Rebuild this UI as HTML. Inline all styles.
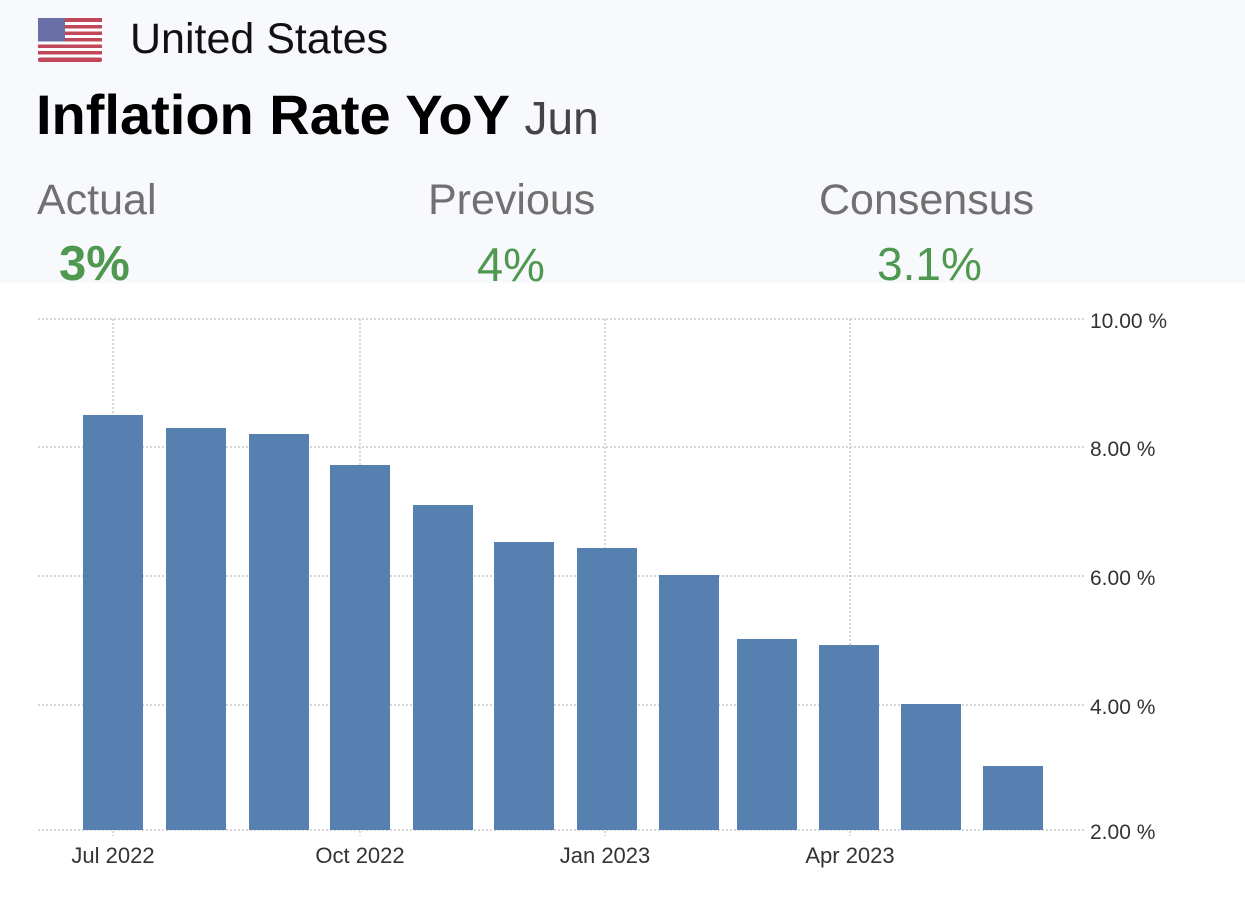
<!DOCTYPE html>
<html><head><meta charset="utf-8"><style>
body{margin:0;width:1245px;height:900px;background:#fff;font-family:"Liberation Sans",sans-serif;overflow:hidden;position:relative}
.top{position:absolute;left:0;top:0;width:1245px;height:283px;background:#f8f9fc}
.t{position:absolute;white-space:nowrap}
</style></head><body>
<div class="top"></div>
<svg class="t" style="left:38px;top:18px" width="64" height="44" viewBox="0 0 64 44">
<rect x="0" y="0" width="64" height="44" rx="5" fill="#fff"/>
<g fill="#c0485a"><rect y="0" width="64" height="4"/><rect y="7" width="64" height="3.5"/><rect y="13.5" width="64" height="3.5"/><rect y="20" width="64" height="3.5"/><rect y="26.5" width="64" height="3.5"/><rect y="33" width="64" height="3.5"/><rect y="39.5" width="64" height="4.5" rx="2"/></g>
<rect x="0" y="0" width="27" height="23.5" fill="#6a6fa8"/>
</svg>
<div class="t" style="left:130px;top:15px;font-size:43px;color:#111">United States</div>
<div class="t" style="left:36px;top:82px;font-size:56px;font-weight:bold;color:#000">Inflation Rate YoY <span style="font-weight:normal;font-size:46px;color:#444">Jun</span></div>
<div class="t" style="left:37px;top:176px;font-size:43px;color:#707070">Actual</div>
<div class="t" style="left:428px;top:176px;font-size:43px;color:#707070">Previous</div>
<div class="t" style="left:819px;top:176px;font-size:43px;color:#707070">Consensus</div>
<div class="t" style="left:59px;top:236px;font-size:49px;font-weight:bold;color:#4f9850">3%</div>
<div class="t" style="left:477px;top:237px;font-size:47px;color:#4f9850">4%</div>
<div class="t" style="left:877px;top:237px;font-size:46px;color:#4f9850">3.1%</div>
<svg class="t" style="left:0;top:283px" width="1245" height="617">
<g transform="translate(0,-283)">
<g stroke="#c8c8c8" stroke-width="1.5" stroke-dasharray="2,2" fill="none">
<line x1="38" y1="319" x2="1085" y2="319"/><line x1="38" y1="447" x2="1085" y2="447"/><line x1="38" y1="576" x2="1085" y2="576"/><line x1="38" y1="705" x2="1085" y2="705"/><line x1="38" y1="830" x2="1085" y2="830"/>
<line x1="113" y1="319" x2="113" y2="836"/><line x1="360" y1="319" x2="360" y2="836"/><line x1="605" y1="319" x2="605" y2="836"/><line x1="850" y1="319" x2="850" y2="836"/>
</g>
<g fill="#5580b0">
<rect x="83" y="415" width="60" height="415"/><rect x="166" y="428" width="60" height="402"/><rect x="249" y="434" width="60" height="396"/><rect x="330" y="465" width="60" height="365"/><rect x="413" y="505" width="60" height="325"/><rect x="494" y="542" width="60" height="288"/><rect x="577" y="548" width="60" height="282"/><rect x="659" y="575" width="60" height="255"/><rect x="737" y="639" width="60" height="191"/><rect x="819" y="645" width="60" height="185"/><rect x="901" y="704" width="60" height="126"/><rect x="983" y="766" width="60" height="64"/>
</g>
<g font-size="21" fill="#333" font-family="Liberation Sans,sans-serif">
<text x="1090" y="328">10.00 %</text><text x="1090" y="456">8.00 %</text><text x="1090" y="585">6.00 %</text><text x="1090" y="714">4.00 %</text><text x="1090" y="839">2.00 %</text>
<g text-anchor="middle" font-size="22"><text x="113" y="863">Jul 2022</text><text x="360" y="863">Oct 2022</text><text x="605" y="863">Jan 2023</text><text x="850" y="863">Apr 2023</text></g>
</g></g></svg>
</body></html>
